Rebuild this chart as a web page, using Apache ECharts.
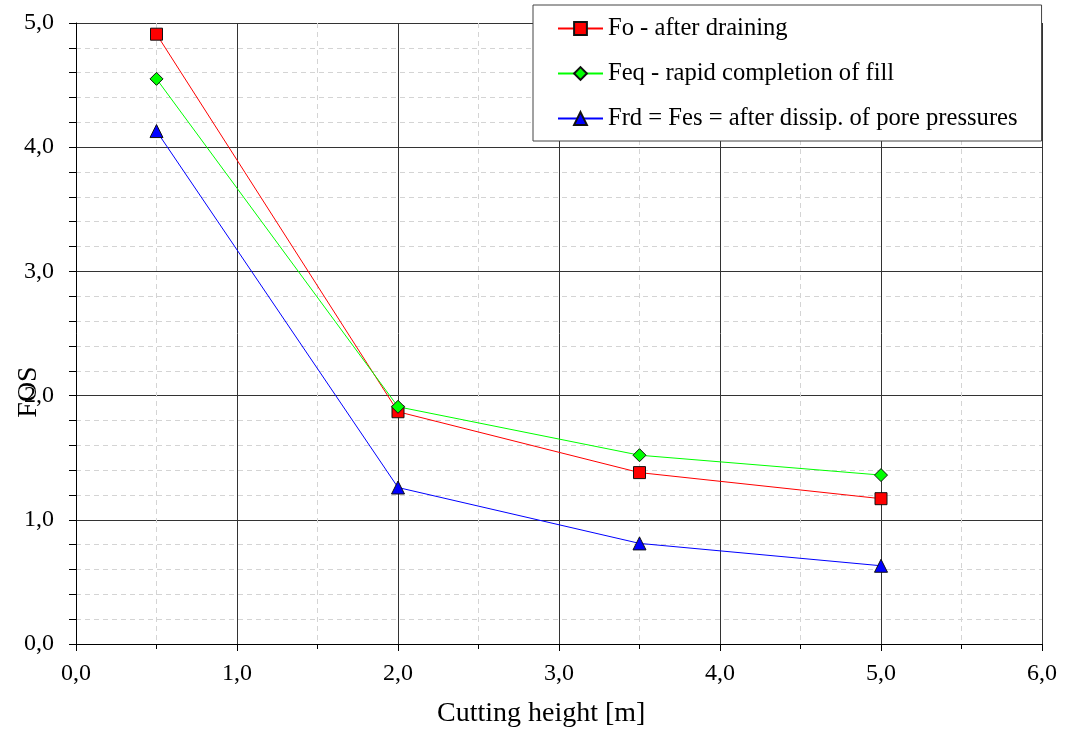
<!DOCTYPE html>
<html>
<head>
<meta charset="utf-8">
<script src="https://cdn.jsdelivr.net/npm/echarts@6/dist/echarts.min.js"></script>
<style>html,body{margin:0;padding:0;background:#fff;}#c{width:1070px;height:733px;}</style>
</head>
<body>
<div id="c"></div>
<script>
var heights = [0.5, 2.0, 3.5, 5.0];
var foValues = [4.91, 1.87, 1.38, 1.17];
var feqValues = [4.55, 1.91, 1.52, 1.36];
var frdValues = [4.13, 1.26, 0.81, 0.63];
var seriesNames = ['Fo - after draining', 'Feq - rapid completion of fill', 'Frd = Fes = after dissip. of pore pressures'];
var xAxisTitle = 'Cutting height [m]';
var yAxisTitle = 'FOS';

function pairs(xs, ys) { return xs.map(function (x, i) { return [x, ys[i]]; }); }
function fmt(v) { return v.toFixed(1).replace('.', ','); }
var FONT = '"Liberation Serif", "Times New Roman", serif';

var chart = echarts.init(document.getElementById('c'), null, { renderer: 'canvas' });
var axisCommon = {
  axisLine: { show: true, onZero: false, lineStyle: { color: '#000', width: 1 } },
  axisTick: { show: true, inside: false, length: 7, lineStyle: { color: '#000' } },
  minorTick: { show: true, length: 6, lineStyle: { color: '#000' } },
  splitLine: { show: true, lineStyle: { color: '#333', width: 1 } },
  minorSplitLine: { show: true, lineStyle: { color: '#d4d4d4', width: 1, type: [5, 4] } },
  axisLabel: { color: '#000', fontSize: 24, fontFamily: FONT, formatter: fmt }
};
function mk(name, data, color, symbol, size) {
  return {
    name: name, type: 'line', data: data, symbol: symbol, symbolSize: size,
    lineStyle: { color: color, width: 1 },
    itemStyle: { color: color, borderColor: '#111', borderWidth: 1 },
    emphasis: { disabled: true }, animation: false
  };
}
chart.setOption({
  animation: false,
  backgroundColor: '#fff',
  grid: { left: 76, right: 28, top: 23, bottom: 89, containLabel: false },
  xAxis: Object.assign({}, axisCommon, {
    type: 'value', min: 0, max: 6, interval: 1,
    minorTick: { show: true, splitNumber: 2, length: 5, lineStyle: { color: '#000' } },
    axisLabel: Object.assign({}, axisCommon.axisLabel, { margin: 18 })
  }),
  yAxis: Object.assign({}, axisCommon, {
    type: 'value', min: 0, max: 5, interval: 1,
    minorTick: { show: true, splitNumber: 5, length: 7, lineStyle: { color: '#000' } },
    axisLabel: Object.assign({}, axisCommon.axisLabel, { margin: 22 })
  }),
  legend: {
    orient: 'vertical', left: 533, top: 5,
    padding: [11, 24, 10, 24], itemGap: 20, itemWidth: 45, itemHeight: 16, itemTextGap: 6,
    backgroundColor: '#fff', borderColor: '#444', borderWidth: 1, borderRadius: 0,
    textStyle: { color: '#000', fontSize: 24.6, fontFamily: FONT },
    data: seriesNames
  },
  graphic: [
    { type: 'text', left: 437, top: 700, style: { text: xAxisTitle, fill: '#000', font: '28px ' + FONT } },
    { type: 'text', x: 29, y: 392, rotation: Math.PI / 2, style: { text: yAxisTitle, fill: '#000', font: '28px ' + FONT, align: 'center', verticalAlign: 'middle' } }
  ],
  series: [
    mk(seriesNames[0], pairs(heights, foValues), '#ff0000', 'rect', 12),
    mk(seriesNames[1], pairs(heights, feqValues), '#00ff00', 'diamond', 13),
    mk(seriesNames[2], pairs(heights, frdValues), '#0000ff', 'triangle', 13)
  ]
});
</script>
</body>
</html>
